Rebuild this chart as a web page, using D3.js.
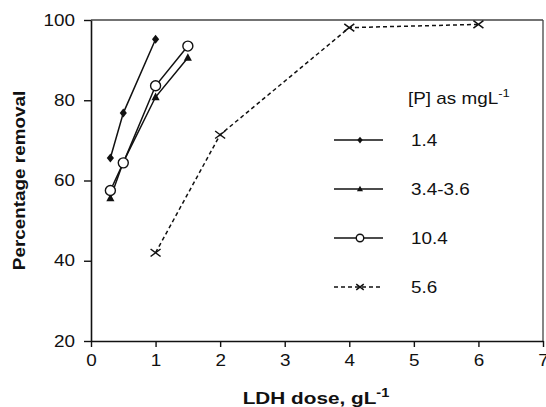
<!DOCTYPE html>
<html>
<head>
<meta charset="utf-8">
<script src="https://cdn.jsdelivr.net/npm/d3@7"></script>
<style>
  body { margin: 0; background: #fff; }
  text { font-family: "Liberation Sans", Arial, sans-serif; fill: #111; }
</style>
</head>
<body>
<script>
// data
const xTicks = [0, 1, 2, 3, 4, 5, 6, 7];
const yTicks = [20, 40, 60, 80, 100];

const dose14 = [0.3, 0.5, 1];
const rem14 = [65.6, 76.8, 95.2];

const dose34 = [0.3, 0.5, 1, 1.5];
const rem34 = [55.6, 64.6, 80.8, 90.6];

const dose104 = [0.3, 0.5, 1, 1.5];
const rem104 = [57.5, 64.4, 83.6, 93.5];

const dose56 = [1, 2, 4, 6];
const rem56 = [42.0, 71.4, 98.1, 98.9];

const seriesNames = ["1.4", "3.4-3.6", "10.4", "5.6"];

const W = 546, H = 407;
const margin = {top: 20, right: 3, bottom: 66, left: 91};
const width = W - margin.left - margin.right,
    height = H - margin.top - margin.bottom;

// the text in the picture is a bit wider than Arial
const sx = 1.18;

const svg = d3.select("body").append("svg")
    .attr("width", W)
    .attr("height", H);

const g = svg.append("g")
    .attr("transform", `translate(${margin.left},${margin.top})`);

const x = d3.scaleLinear().domain([0, 7]).range([0, width]);
const y = d3.scaleLinear().domain([20, 100]).range([height, 0]);

// frame on top and right
g.append("line").attr("x1", 0).attr("x2", width).attr("y1", 0).attr("y2", 0)
    .attr("stroke", "#444").attr("stroke-width", 1.3);
g.append("line").attr("x1", width).attr("x2", width).attr("y1", 0).attr("y2", height)
    .attr("stroke", "#444").attr("stroke-width", 1.3);

// axes
const xAxis = g.append("g")
    .attr("transform", `translate(0,${height})`)
    .call(d3.axisBottom(x).tickValues(xTicks).tickFormat(d3.format("d"))
        .tickSize(6).tickPadding(8).tickSizeOuter(0));
const yAxis = g.append("g")
    .call(d3.axisLeft(y).tickValues(yTicks).tickFormat(d3.format("d"))
        .tickSize(7).tickPadding(6.5).tickSizeOuter(0));

[xAxis, yAxis].forEach(a => {
  a.select(".domain").attr("stroke", "#111").attr("stroke-width", 1.6);
  a.selectAll(".tick line").attr("stroke", "#111").attr("stroke-width", 1.4);
  a.selectAll(".tick text")
      .style("font-family", "Liberation Sans, Arial, sans-serif")
      .style("font-size", "16px")
      .attr("fill", "#222")
      .attr("transform", `scale(${sx},1)`);
});

// axis titles
svg.append("text")
    .attr("transform", `translate(24.5,${margin.top + height / 2}) rotate(-90) scale(${sx},1)`)
    .attr("text-anchor", "middle")
    .style("font-size", "16px")
    .style("font-weight", "bold")
    .text("Percentage removal");

const xt = svg.append("text")
    .attr("transform", `translate(316,404) scale(1.22,1)`)
    .attr("text-anchor", "middle")
    .style("font-size", "17px")
    .style("font-weight", "bold");
xt.append("tspan").text("LDH dose, gL");
xt.append("tspan").attr("dy", -7).style("font-size", "12px").text("-1");

// series
const series = [
  {xs: dose14, ys: rem14, mark: "diamond", dash: null},
  {xs: dose34, ys: rem34, mark: "triangle", dash: null},
  {xs: dose104, ys: rem104, mark: "circle", dash: null},
  {xs: dose56, ys: rem56, mark: "cross", dash: "4,3"}
];

const line = d3.line().x(d => x(d[0])).y(d => y(d[1]));

function drawMark(sel, type, s) {
  if (type === "diamond") {
    sel.append("path")
        .attr("d", `M0,${-s}L${s * 0.8},0L0,${s}L${-s * 0.8},0Z`)
        .attr("fill", "#111");
  } else if (type === "triangle") {
    sel.append("path")
        .attr("d", `M0,${-s}L${s * 0.9},${s * 0.7}L${-s * 0.9},${s * 0.7}Z`)
        .attr("fill", "#111");
  } else if (type === "circle") {
    sel.append("circle").attr("r", s)
        .attr("fill", "#fff").attr("stroke", "#111").attr("stroke-width", 1.4);
  } else {
    sel.append("path")
        .attr("d", `M${-s},${-s * 0.75}L${s},${s * 0.75}M${-s},${s * 0.75}L${s},${-s * 0.75}`)
        .attr("stroke", "#111").attr("stroke-width", 1.5).attr("fill", "none");
  }
}

const markSize = {diamond: 4.5, triangle: 4.5, circle: 5, cross: 5};

series.forEach(sr => {
  const pts = d3.zip(sr.xs, sr.ys);
  g.append("path")
      .datum(pts)
      .attr("d", line)
      .attr("fill", "none")
      .attr("stroke", "#111")
      .attr("stroke-width", 1.5)
      .attr("stroke-dasharray", sr.dash);
  g.selectAll(null)
      .data(pts)
      .join("g")
      .attr("transform", d => `translate(${x(d[0])},${y(d[1])})`)
      .each(function() { drawMark(d3.select(this), sr.mark, markSize[sr.mark]); });
});

// legend
const lt = svg.append("text")
    .attr("transform", `translate(408,104) scale(${sx},1)`)
    .style("font-size", "16px");
lt.append("tspan").text("[P] as mgL");
lt.append("tspan").attr("dy", -7).style("font-size", "11px").text("-1");

const legendY = [140, 189, 238, 287];
series.forEach((sr, i) => {
  const lg = svg.append("g").attr("transform", `translate(0,${legendY[i]})`);
  lg.append("line")
      .attr("x1", 334).attr("x2", 383)
      .attr("stroke", "#111").attr("stroke-width", 1.5)
      .attr("stroke-dasharray", sr.dash);
  drawMark(lg.append("g").attr("transform", "translate(360,0)"), sr.mark, markSize[sr.mark] * 0.75);
  lg.append("text")
      .attr("transform", `translate(411,6) scale(${sx},1)`)
      .style("font-size", "16px")
      .text(seriesNames[i]);
});
</script>
</body>
</html>
